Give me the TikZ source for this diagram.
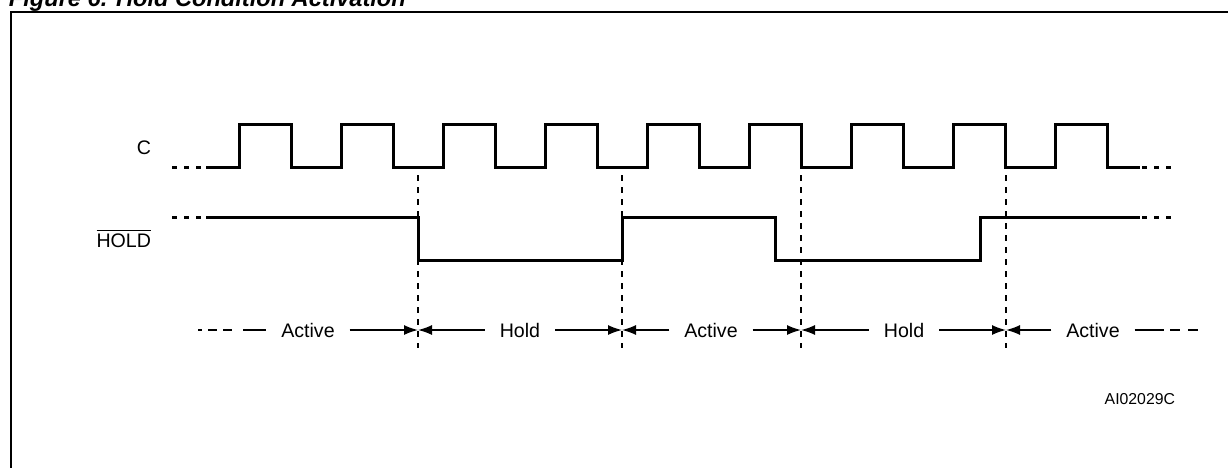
\documentclass[tikz,border=0pt]{standalone}
\usepackage{fontspec}
\setmainfont{Liberation Sans}
\usetikzlibrary{arrows.meta}

\begin{document}
\begin{tikzpicture}[x=0.5pt,y=-0.5pt,
	every node/.style={font=\fontsize{9.8}{12}\selectfont,inner sep=0pt,outer sep=0pt},
	signal/.style={line width=1.5pt},
	lead/.style={line width=1.5pt,dash pattern=on 2.7pt off 3.3pt},
	marker/.style={line width=0.7pt,dash pattern=on 3.2pt off 2.8pt},
	span/.style={line width=0.75pt},
	periode/.style={inner xsep=7.5pt},
	>={Latex[length=7pt,width=5pt]}]
  %billedets ramme
	\useasboundingbox (0,0) rectangle (1228,467);
	\clip (0,0) rectangle (1228,467);
	\node[anchor=base west,font=\fontsize{11.8}{14}\selectfont\bfseries\itshape] (title) at (9,6.5) {Figure 6. Hold Condition Activation};
	\draw[line width=1.25pt] (11,480) -- (11,12) -- (1240,12);

  %signal-navne
	\node[anchor=base east] (clk) at (151,154) {C};
	\node[anchor=base east] (hold) at (151,247) {$\overline{\mbox{HOLD}}$};

  %klok C
	\draw[lead] (172,167) -- (202,167);
	\draw[signal] (206,167) \foreach \k in {0,...,8}{ -- ({239+102.1*\k},167) -- ++(0,-43) -- ++(52,0) -- ++(0,43)} -- (1140,167);
	\draw[lead] (1142,167) -- (1172,167);

  %HOLD signal
	\draw[lead] (172,217) -- (202,217);
	\draw[signal] (206,217) -- (418,217) -- (418,260) -- (622,260) -- (622,217) -- (775,217) -- (775,260) -- (980,260) -- (980,217) -- (1140,217);
	\draw[lead] (1142,217) -- (1172,217);

  %stiplede markeringer
	\foreach \x/\n in {418/1,622/2,801/3,1006/4}{
		\draw[marker] (\x,175) -- (\x,348);
		\coordinate (m\n) at (\x,330);
	}

  %perioder
	\node[periode] (a1) at (308,330) {Active};
	\node[periode] (h1) at (520,330) {Hold};
	\node[periode] (a2) at (711,330) {Active};
	\node[periode] (h2) at (904,330) {Hold};
	\node[periode] (a3) at (1093,330) {Active};

  %pile
	\coordinate (l0) at (198,330);
	\coordinate (l1) at (238,330);
	\coordinate (l2) at (243,330);
	\draw[span,dash pattern=on 4.5pt off 3pt,dash phase=2.5pt] (l0) -- (l1);
	\draw[span] (l2) -- (a1);
	\draw[span,->] (a1) -- (m1);
	\draw[span,->] (h1) -- (m1);
	\draw[span,->] (h1) -- (m2);
	\draw[span,->] (a2) -- (m2);
	\draw[span,->] (a2) -- (m3);
	\draw[span,->] (h2) -- (m3);
	\draw[span,->] (h2) -- (m4);
	\draw[span,->] (a3) -- (m4);
	\coordinate (r1) at (1164,330);
	\coordinate (r2) at (1170,330);
	\coordinate (r3) at (1204,330);
	\draw[span] (a3) -- (r1);
	\draw[span,dash pattern=on 5pt off 4pt] (r2) -- (r3);

  %figur-nummer
	\node[anchor=base east,font=\fontsize{7.9}{9}\selectfont] (fig) at (1175,404) {AI02029C};
\end{tikzpicture}
\end{document}
